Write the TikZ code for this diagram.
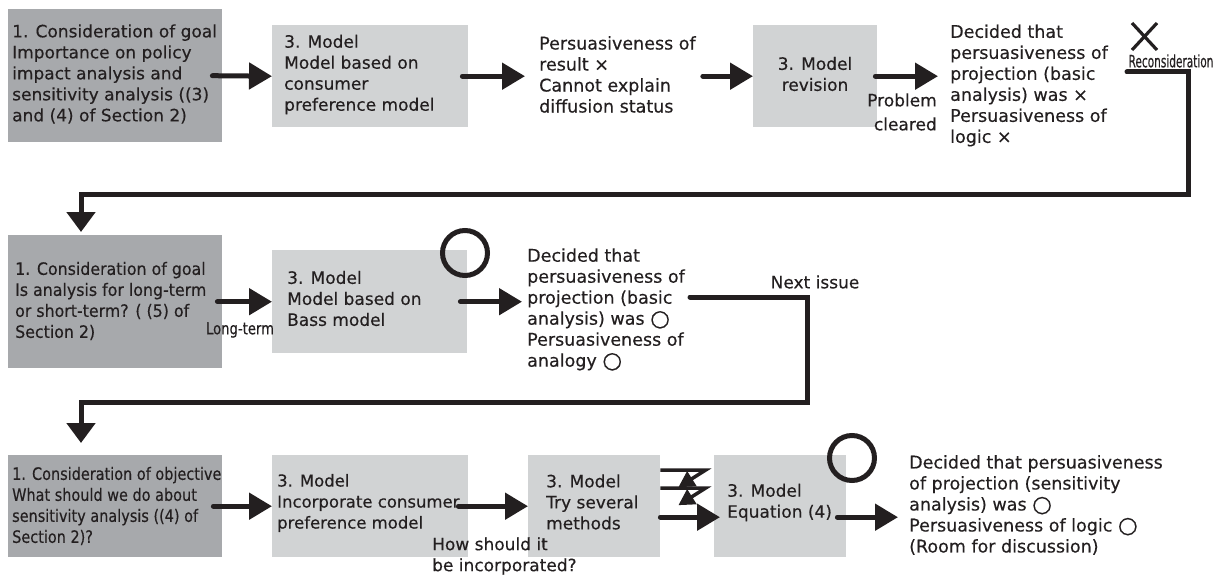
\documentclass[tikz,border=0pt]{standalone}
\usepackage{fontspec}
\setmainfont[FakeBold=0.35]{DejaVu Sans}
\newfontfamily\condA[FakeStretch=0.62,FakeBold=0.35]{DejaVu Sans}
\newfontfamily\condB[FakeStretch=0.8,FakeBold=0.35]{DejaVu Sans}
\newfontfamily\condS[FakeStretch=0.85,FakeBold=0.35]{DejaVu Sans}
\newfontfamily\condC[FakeStretch=0.93,FakeBold=0.35]{DejaVu Sans}
\newcommand\okglyph{\raisebox{-0.06em}{\scalebox{1.3}{○}}}
\usetikzlibrary{arrows.meta,calc}
\definecolor{ink}{HTML}{231F20}
\definecolor{boxdark}{HTML}{A7A9AC}
\definecolor{boxlight}{HTML}{D1D3D4}
\begin{document}
\begin{tikzpicture}[x=1pt,y=-1pt,
  box/.style={anchor=north west, inner sep=0pt, draw=none},
  darkbox/.style={box, fill=boxdark},
  lightbox/.style={box, fill=boxlight},
  txt/.style={inner sep=0pt, align=left, text=ink, font=\fontsize{17}{21}\selectfont, anchor=west},
  rtxt/.style={txt, font=\fontsize{17.5}{21}\selectfont},
  arr/.style={draw=ink, line width=5pt, line cap=round, -{Triangle[length=23pt,width=26pt]}},
  zig/.style={draw=ink, line width=3.5pt, line join=miter, -{Triangle[length=16pt,width=17pt]}},
  bendarr/.style={draw=ink, line width=5pt, line cap=round, line join=miter, -{Triangle[length=20pt,width=28pt]}},
  okmark/.style={circle, draw=ink, line width=5pt, minimum size=45pt, inner sep=0pt},
]
\useasboundingbox (0,0) rectangle (1226,575);

% ---------- row 1 ----------
\node[darkbox, minimum width=214pt, minimum height=133pt] (b1) at (8,9) {};
\node[txt] (t1) at (12,74) {1. Consideration of goal\\Importance on policy\\impact analysis and\\sensitivity analysis ((3)\\and (4) of Section 2)};
\node[lightbox, minimum width=196pt, minimum height=102pt] (b2) at (272,25) {};
\node[txt] (t2) at (284,74.5) {3. Model\\Model based on\\consumer\\preference model};
\node[rtxt] (t3) at (539,74.5) {Persuasiveness of\\result ×\\Cannot explain\\diffusion status};
\node[lightbox, minimum width=124pt, minimum height=102pt] (b4) at (753,25) {};
\node[txt, anchor=center, align=center] (t4) at (815,74) {3. Model\\revision};
\node[rtxt] (t5) at (950,85.5) {Decided that\\persuasiveness of\\projection (basic\\analysis) was ×\\Persuasiveness of\\logic ×};
\node[txt, anchor=center, align=right, font=\fontsize{17}{24}\selectfont] (pc) at (902,112) {Problem\\cleared};
\draw[ink, line width=3.2pt] (1132,23) -- (1157,50) (1132,50) -- (1157,23);
\node[txt, anchor=center, font=\condA\fontsize{17}{17}\selectfont] (recon) at (1171,61) {Reconsideration};

\draw[arr] ([xshift=-10pt]b1.east) -- (b2.west);
\draw[arr] ([xshift=-6pt]b2.east) -- ([xshift=-14pt]b2.east -| t3.west);
\draw[arr] ([xshift=7pt]t3.east |- b4.west) -- (b4.west);
\draw[arr] ([xshift=-2pt]b4.east) -- ([xshift=-12pt]b4.east -| t5.west);

% ---------- row 2 ----------
\node[darkbox, minimum width=214pt, minimum height=133pt] (b6) at (8,235) {};
\node[txt, font=\condC\fontsize{17}{21}\selectfont] (t6) at (15,301) {1. Consideration of goal\\Is analysis for long-term\\or short-term? ( (5) of\\Section 2)};
\node[lightbox, minimum width=195pt, minimum height=103pt] (b7) at (272,250) {};
\node[txt] (t7) at (287,298.5) {3. Model\\Model based on\\Bass model};
\node[okmark] (o1) at (465,253) {};
\node[rtxt] (t8) at (527,309.5) {Decided that\\persuasiveness of\\projection (basic\\analysis) was \okglyph\\Persuasiveness of\\analogy \okglyph};
\node[txt, anchor=center, font=\condB\fontsize{16.5}{16.5}\selectfont] (lt) at (240,330) {Long-term};
\node[txt, anchor=center] (ni) at (815,282) {Next issue};

\draw[arr] ([xshift=-5pt]b6.east) -- (b7.west);
\draw[arr] ([xshift=-7pt]b7.east) -- ([xshift=-5pt]b7.east -| t8.west);

% return connector row1 -> row2
\coordinate (r1s) at (1127,72);
\coordinate (r1c) at (1188,194);
\coordinate (r1e) at (81,232);
\draw[bendarr] (r1s) -| (r1c) -| (r1e);

% ---------- row 3 ----------
\node[darkbox, minimum width=214pt, minimum height=102pt] (b9) at (8,455) {};
\node[txt, font=\condS\fontsize{17}{21}\selectfont] (t9) at (12,506) {1. Consideration of objective\\What should we do about\\sensitivity analysis ((4) of\\Section 2)?};
\node[lightbox, minimum width=196pt, minimum height=102pt] (b10) at (272,455) {};
\node[txt, font=\fontsize{16.5}{21}\selectfont] (t10) at (277,503) {3. Model\\Incorporate consumer\\preference model};
\node[lightbox, minimum width=132pt, minimum height=102pt] (b11) at (528,455) {};
\node[txt] (t11) at (546,502) {3. Model\\Try several\\methods};
\node[lightbox, minimum width=132pt, minimum height=102pt] (b12) at (714,455) {};
\node[txt] (t12) at (727,502.5) {3. Model\\Equation (4)};
\node[okmark] (o2) at (852,458) {};
\node[rtxt] (t13) at (909,505) {Decided that persuasiveness\\of projection (sensitivity\\analysis) was \okglyph\\Persuasiveness of logic \okglyph\\(Room for discussion)};
\node[txt] (hs) at (432,556) {How should it\\be incorporated?};

\coordinate (r2s) at (690,297);
\coordinate (r2c) at (807,402);
\coordinate (r2e) at (81,443);
\draw[bendarr] (r2s) -| (r2c) -| (r2e);

\draw[arr] ([xshift=-9pt]b9.east) -- (b10.west);
\draw[arr] ([xshift=-10pt]b10.east) -- (b11.west);
\draw[zig] ($(b11.east)+(0,-36)$) -- ++(45,0) -- ++(-27,17);
\draw[zig] ($(b11.east)+(0,-18)$) -- ++(45,0) -- ++(-27,17);
\draw[arr] ($(b11.east)+(0,11)$) -- ($(b12.west)+(6,11)$);
\draw[arr] ($(b12.east)+(-9,11)$) -- ($(b12.east -| t13.west)+(-11,11)$);
\end{tikzpicture}
\end{document}
